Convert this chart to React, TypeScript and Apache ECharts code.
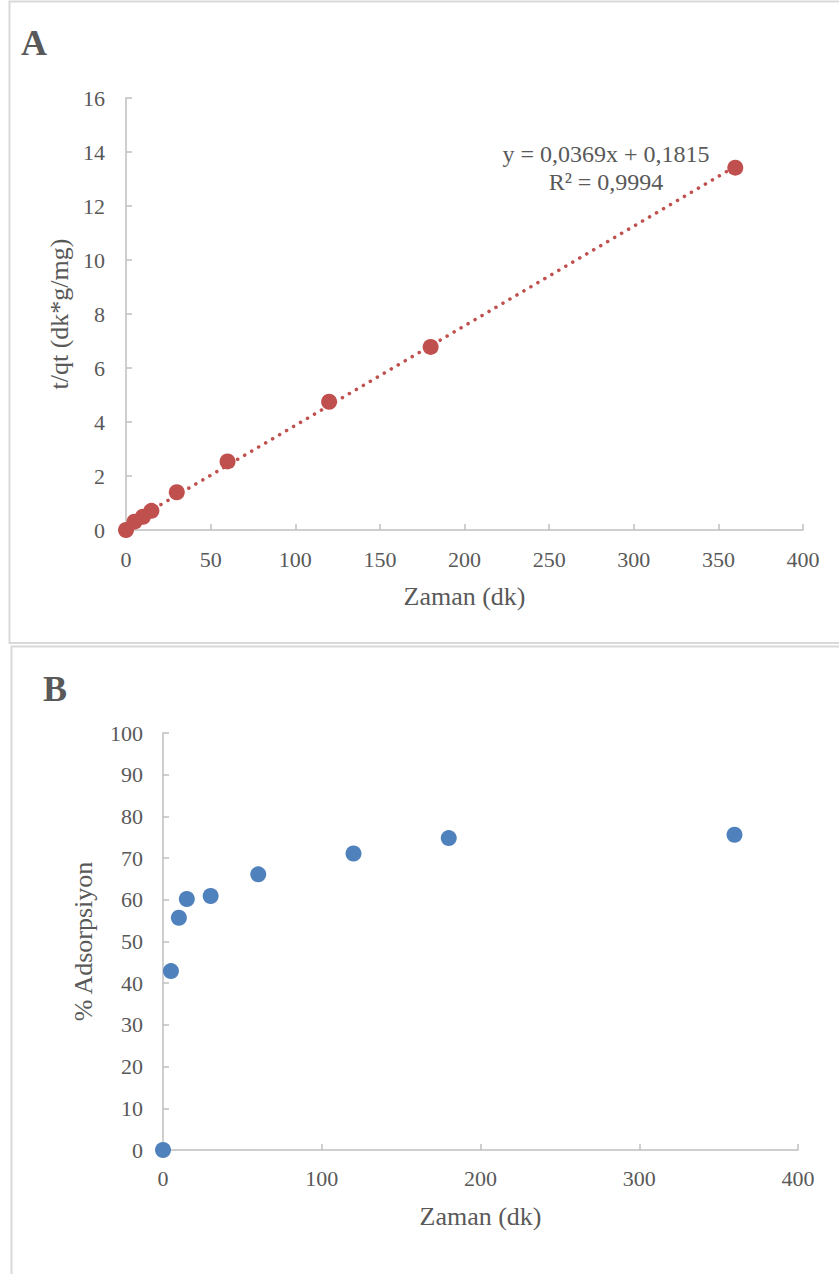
import React, { useEffect, useRef } from "react";
import * as echarts from "echarts";

// Contact time (min) shared by both panels
const timeMin = [0, 5, 10, 15, 30, 60, 120, 180, 360];
// Panel A: pseudo-second-order plot t/qt
const tOverQt = [0, 0.31, 0.49, 0.71, 1.4, 2.54, 4.75, 6.78, 13.42];
// Linear fit reported on panel A
const fitSlope = 0.0369;
const fitIntercept = 0.1815;
const fitR2 = 0.9994;
// Panel B: % adsorption
const adsorptionPct = [0, 42.9, 55.7, 60.2, 60.9, 66.1, 71.1, 74.8, 75.6];

const FONT = "Liberation Serif";
const TEXT = "#595959";
const AXIS = "#BFBFBF";
const RED = "#C0504D";
const BLUE = "#4F81BD";

const fmt = (v: number, d: number) => v.toFixed(d).replace(".", ",");

export default function App() {
  const ref = useRef<HTMLDivElement>(null);

  useEffect(() => {
    if (!ref.current) return;
    const chart = echarts.init(ref.current, null, { renderer: "svg" });

    const axisCommon = {
      axisLine: { show: true, lineStyle: { color: AXIS, width: 1.5 } },
      axisTick: { show: true, inside: true, length: 6, lineStyle: { color: AXIS, width: 1.5 } },
      splitLine: { show: false },
      axisLabel: { color: TEXT, fontFamily: FONT, fontSize: 22 },
      nameLocation: "middle" as const,
      nameTextStyle: { color: TEXT, fontFamily: FONT, fontSize: 26 },
    };

    const fitX = [timeMin[0], timeMin[timeMin.length - 1]];
    const fitLine = fitX.map((x) => [x, fitIntercept + fitSlope * x]);

    chart.setOption({
      animation: false,
      backgroundColor: "#ffffff",
      textStyle: { fontFamily: FONT },
      grid: [
        { left: 126, right: 36, top: 98, height: 432 },
        { left: 163, right: 41, top: 733, height: 417 },
      ],
      xAxis: [
        {
          ...axisCommon,
          gridIndex: 0,
          type: "value",
          min: 0,
          max: 400,
          interval: 50,
          name: "Zaman (dk)",
          nameGap: 53,
          axisLabel: { ...axisCommon.axisLabel, margin: 18 },
        },
        {
          ...axisCommon,
          gridIndex: 1,
          type: "value",
          min: 0,
          max: 400,
          interval: 100,
          name: "Zaman (dk)",
          nameGap: 53,
          axisLabel: { ...axisCommon.axisLabel, margin: 17 },
        },
      ],
      yAxis: [
        {
          ...axisCommon,
          gridIndex: 0,
          type: "value",
          min: 0,
          max: 16,
          interval: 2,
          name: "t/qt (dk*g/mg)",
          nameGap: 50,
          axisLabel: { ...axisCommon.axisLabel, margin: 21 },
        },
        {
          ...axisCommon,
          gridIndex: 1,
          type: "value",
          min: 0,
          max: 100,
          interval: 10,
          name: "% Adsorpsiyon",
          nameGap: 67,
          axisLabel: { ...axisCommon.axisLabel, margin: 20 },
        },
      ],
      series: [
        {
          type: "line",
          xAxisIndex: 0,
          yAxisIndex: 0,
          data: fitLine,
          showSymbol: false,
          symbol: "none",
          lineStyle: { color: RED, width: 3.5, type: [0.1, 8], cap: "round" },
          z: 1,
        },
        {
          type: "scatter",
          xAxisIndex: 0,
          yAxisIndex: 0,
          data: timeMin.map((t, i) => [t, tOverQt[i]]),
          symbolSize: 16,
          itemStyle: { color: RED, opacity: 1 },
          z: 2,
        },
        {
          type: "scatter",
          xAxisIndex: 1,
          yAxisIndex: 1,
          data: timeMin.map((t, i) => [t, adsorptionPct[i]]),
          symbolSize: 16,
          itemStyle: { color: BLUE, opacity: 1 },
          z: 2,
        },
      ],
      graphic: [
        {
          type: "rect",
          shape: { x: 9.5, y: 1.5, width: 840, height: 641.5 },
          style: { fill: "none", stroke: "#D9D9D9", lineWidth: 2 },
          silent: true,
        },
        {
          type: "rect",
          shape: { x: 11.5, y: 646.5, width: 840, height: 640 },
          style: { fill: "none", stroke: "#D9D9D9", lineWidth: 2 },
          silent: true,
        },
        {
          type: "text",
          x: 21,
          y: 25,
          style: { text: "A", fill: TEXT, fontFamily: FONT, fontWeight: "bold", fontSize: 36 },
        },
        {
          type: "text",
          x: 43,
          y: 671,
          style: { text: "B", fill: TEXT, fontFamily: FONT, fontWeight: "bold", fontSize: 36 },
        },
        {
          type: "text",
          x: 606,
          y: 140,
          style: {
            text: `y = ${fmt(fitSlope, 4)}x + ${fmt(fitIntercept, 4)}\nR² = ${fmt(fitR2, 4)}`,
            fill: TEXT,
            fontFamily: FONT,
            fontSize: 24,
            align: "center",
            lineHeight: 28,
          },
        },
      ],
    });

    return () => chart.dispose();
  }, []);

  return (
    <div
      ref={ref}
      style={{ position: "absolute", left: 0, top: 0, width: 839, height: 1274 }}
    />
  );
}
